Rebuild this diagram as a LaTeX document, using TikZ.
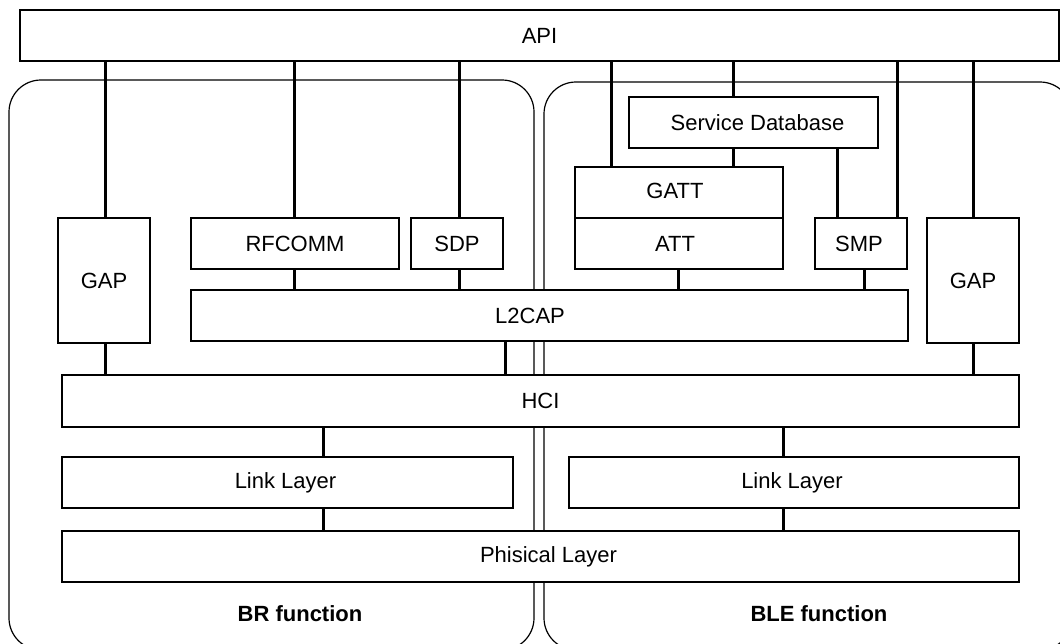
\documentclass[tikz,border=0pt]{standalone}
\usepackage{fontspec}
\setmainfont{Liberation Sans}
\usetikzlibrary{fit}
\begin{document}
\begin{tikzpicture}[x=0.5pt,y=-0.5pt,
  font=\fontsize{11}{13}\selectfont,
  box/.style={draw, fill=white, line width=0.75pt, inner sep=0pt},
  area/.style={draw, line width=0.6pt, inner sep=0pt, rounded corners=16pt},
  conn/.style={line width=1.5pt},
  areatitle/.style={font=\bfseries\fontsize{11}{13}\selectfont}]
\useasboundingbox (0,0) rectangle (1060,643);
\clip (0,0) rectangle (1060,643);
% function areas
\node[area, fit={(9,80) (534,650)}] (br) {};
\node[area, fit={(544,82) (1072,650)}] (ble) {};
\node[areatitle] (brt) at (300,614) {BR function};
\node[areatitle] (blet) at (819,614) {BLE function};
% boxes
\node[box, fit={(20,10) (1059,61)}, label=center:API] (api) {};
\node[box, fit={(58,218) (150,343)}, label=center:GAP] (gapL) {};
\node[box, fit={(191,218) (399,269)}, label=center:RFCOMM] (rfcomm) {};
\node[box, fit={(411,218) (503,269)}, label=center:SDP] (sdp) {};
\node[box, fit={(629,97) (878,148)}, label={[xshift=2pt]center:Service Database}] (sdb) {};
\node[box, fit={(575,167) (783,218)}, label={[xshift=-2pt,yshift=1pt]center:GATT}] (gatt) {};
\node[box, fit={(575,218) (783,269)}, label={[xshift=-2pt]center:ATT}] (att) {};
\node[box, fit={(815,218) (907,269)}, label={[xshift=-1pt]center:SMP}] (smp) {};
\node[box, fit={(927,218) (1019,343)}, label=center:GAP] (gapR) {};
\node[box, fit={(191,290) (908,341)}, label={[xshift=-9.75pt]center:L2CAP}] (l2cap) {};
\node[box, fit={(62,375) (1019,427)}, label=center:HCI] (hci) {};
\node[box, fit={(62,457) (513,508)}, label={[xshift=-1pt]center:Link Layer}] (llL) {};
\node[box, fit={(569,457) (1019,508)}, label={[xshift=-1pt]center:Link Layer}] (llR) {};
\node[box, fit={(62,531) (1019,582)}, label={[xshift=4pt]center:Phisical Layer}] (phy) {};
% connectors
\draw[conn] (api.south -| 105,0) -- (gapL.north -| 105,0);
\draw[conn] (api.south -| 294,0) -- (rfcomm.north -| 294,0);
\draw[conn] (api.south -| 459,0) -- (sdp.north -| 459,0);
\draw[conn] (api.south -| 611,0) -- (gatt.north -| 611,0);
\draw[conn] (api.south -| 733,0) -- (sdb.north -| 733,0);
\draw[conn] (sdb.south -| 733,0) -- (gatt.north -| 733,0);
\draw[conn] (sdb.south -| 837,0) -- (smp.north -| 837,0);
\draw[conn] (api.south -| 897,0) -- (smp.north -| 897,0);
\draw[conn] (api.south -| 973,0) -- (gapR.north -| 973,0);
\draw[conn] (rfcomm.south -| 294,0) -- (l2cap.north -| 294,0);
\draw[conn] (sdp.south -| 459,0) -- (l2cap.north -| 459,0);
\draw[conn] (att.south -| 678,0) -- (l2cap.north -| 678,0);
\draw[conn] (smp.south -| 864,0) -- (l2cap.north -| 864,0);
\draw[conn] (gapL.south -| 105,0) -- (hci.north -| 105,0);
\draw[conn] (gapR.south -| 973,0) -- (hci.north -| 973,0);
\draw[conn] (l2cap.south -| 505,0) -- (hci.north -| 505,0);
\draw[conn] (hci.south -| 323,0) -- (llL.north -| 323,0);
\draw[conn] (hci.south -| 783,0) -- (llR.north -| 783,0);
\draw[conn] (llL.south -| 323,0) -- (phy.north -| 323,0);
\draw[conn] (llR.south -| 783,0) -- (phy.north -| 783,0);
\end{tikzpicture}
\end{document}
